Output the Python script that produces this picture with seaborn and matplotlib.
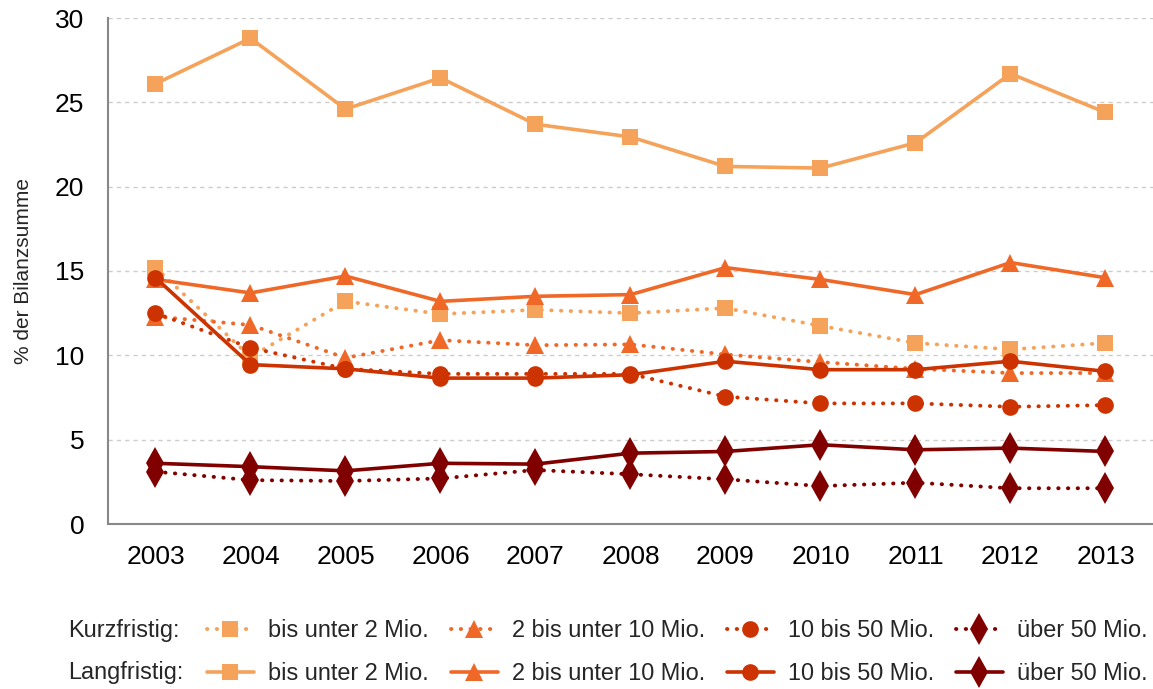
import matplotlib
matplotlib.use("Agg")
import matplotlib.pyplot as plt
import seaborn as sns
import pandas as pd
from matplotlib.lines import Line2D

years = [2003, 2004, 2005, 2006, 2007, 2008, 2009, 2010, 2011, 2012, 2013]

kurz_lt2 = [15.2, 9.9, 13.2, 12.45, 12.7, 12.5, 12.8, 11.75, 10.73, 10.35, 10.73]
kurz_2_10 = [12.3, 11.8, 9.85, 10.9, 10.6, 10.65, 10.05, 9.6, 9.2, 8.95, 8.95]
kurz_10_50 = [12.5, 10.45, 9.2, 8.9, 8.9, 8.9, 7.55, 7.15, 7.15, 6.95, 7.05]
kurz_gt50 = [3.1, 2.6, 2.55, 2.7, 3.2, 2.95, 2.65, 2.25, 2.45, 2.12, 2.12]

lang_lt2 = [26.1, 28.8, 24.6, 26.45, 23.7, 22.95, 21.2, 21.1, 22.6, 26.7, 24.4]
lang_2_10 = [14.5, 13.7, 14.7, 13.2, 13.5, 13.6, 15.2, 14.5, 13.6, 15.5, 14.6]
lang_10_50 = [14.6, 9.45, 9.2, 8.65, 8.65, 8.85, 9.65, 9.15, 9.15, 9.65, 9.05]
lang_gt50 = [3.6, 3.4, 3.15, 3.6, 3.55, 4.2, 4.3, 4.7, 4.4, 4.5, 4.3]

labels = ["bis unter 2 Mio.", "2 bis unter 10 Mio.", "10 bis 50 Mio.", "über 50 Mio."]
colors = ["#F5A25A", "#F06828", "#CC3300", "#800000"]
markers = ["s", "^", "o", "d"]
msizes = [11.5, 13, 12, 16]

sns.set_theme(style="white")
plt.rcParams['font.family'] = ['Liberation Sans', 'DejaVu Sans']

fig = plt.figure(figsize=(11.53, 6.89), dpi=100)
ax = fig.add_axes([108/1153, 1-524/689, (1153-108)/1153, (524-18)/689])

dotted = (0, (0.1, 2.4))
kurz = [kurz_lt2, kurz_2_10, kurz_10_50, kurz_gt50]
lang = [lang_lt2, lang_2_10, lang_10_50, lang_gt50]

for vals, c, m, ms in zip(kurz, colors, markers, msizes):
    sns.lineplot(x=years, y=vals, ax=ax, color=c, marker=m, markersize=ms,
                 markeredgewidth=0, linewidth=2.8, linestyle=dotted,
                 dash_capstyle="round", legend=False)
for vals, c, m, ms in zip(lang, colors, markers, msizes):
    sns.lineplot(x=years, y=vals, ax=ax, color=c, marker=m, markersize=ms,
                 markeredgewidth=0, linewidth=2.6, linestyle="-", legend=False)

ax.set_xlim(2002.5, 2013.5)
ax.set_ylim(0, 30)
ax.set_xticks(years)
ax.set_xticklabels([str(y) for y in years])
ax.set_yticks([0, 5, 10, 15, 20, 25, 30])
ax.yaxis.grid(True, color="#CCCCCC", linestyle=(0, (3, 3)), linewidth=1.0)
ax.set_axisbelow(True)
for s in ["top", "right"]:
    ax.spines[s].set_visible(False)
for s in ["left", "bottom"]:
    ax.spines[s].set_color("#888888")
    ax.spines[s].set_linewidth(1.5)
ax.tick_params(axis="both", which="both", direction="out", length=5, width=1.5,
               color="#888888", labelsize=19, labelcolor="black")
ax.tick_params(axis="x", pad=10)
ax.tick_params(axis="y", pad=12)
ax.set_xlabel("")
ax.set_ylabel("% der Bilanzsumme", fontsize=15, labelpad=16)

handles = []
hlabels = []
for i in range(4):
    handles.append(Line2D([], [], color=colors[i], marker=markers[i], markersize=msizes[i],
                          markeredgewidth=0, linewidth=2.8, linestyle=dotted,
                          dash_capstyle="round"))
    hlabels.append(labels[i])
    handles.append(Line2D([], [], color=colors[i], marker=markers[i], markersize=msizes[i],
                          markeredgewidth=0, linewidth=2.6, linestyle="-"))
    hlabels.append(labels[i])

leg = fig.legend(handles, hlabels, ncol=4, loc="center left",
                 bbox_to_anchor=(207/1153, 1-652/689), frameon=False,
                 fontsize=16.9, handlelength=2.0, handletextpad=0.6,
                 columnspacing=0.93, labelspacing=0.85, borderpad=0,
                 borderaxespad=0)

fig.text(68/1153, 1-630/689, "Kurzfristig:", fontsize=16.9, va="center", ha="left")
fig.text(68/1153, 1-672/689, "Langfristig:", fontsize=16.9, va="center", ha="left")

fig.savefig("out.png", dpi=100)
